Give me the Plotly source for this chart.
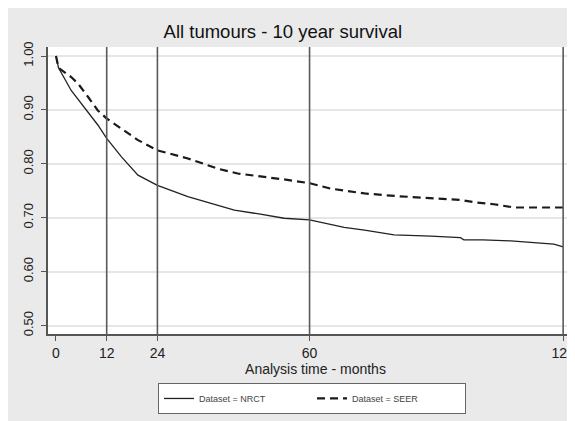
import plotly.graph_objects as go

# Data (months, survival proportion)
nrct_months = [0, 0.2, 0.6, 3.6, 7.6, 9.9, 12, 15.5, 19.4, 24, 31.2, 36.7, 42.2, 48, 54, 60,
               68.2, 73, 80, 88.7, 95.7, 96.5, 101, 107.6, 111.5, 115.4, 117.8, 120]
nrct_surv = [1.00, 0.99, 0.978, 0.936, 0.896, 0.872, 0.847, 0.813, 0.779, 0.760, 0.739, 0.727,
             0.714, 0.707, 0.699, 0.696, 0.682, 0.677, 0.668, 0.666, 0.663, 0.659, 0.659, 0.657,
             0.655, 0.653, 0.651, 0.646]

seer_months = [0, 0.2, 0.6, 3.6, 5.2, 7.6, 9.9, 12, 17, 19.4, 24, 31.2, 38.3, 43, 54, 60,
               65, 73, 80.8, 88.7, 95.7, 99.7, 103.6, 108.4, 120]
seer_surv = [1.00, 0.99, 0.978, 0.961, 0.949, 0.924, 0.899, 0.884, 0.856, 0.844, 0.825, 0.810,
             0.791, 0.782, 0.771, 0.764, 0.754, 0.745, 0.740, 0.736, 0.733, 0.728, 0.725, 0.719,
             0.719]

reference_months = [12, 24, 60, 120]
x_ticks = [0, 12, 24, 60, 120]
y_ticks = [0.5, 0.6, 0.7, 0.8, 0.9, 1.0]

FONT = "Liberation Sans, Arial, sans-serif"
PANEL = "#eaeaea"

fig = go.Figure()
fig.add_trace(go.Scatter(x=nrct_months, y=nrct_surv, mode="lines", name="Dataset = NRCT",
                         line=dict(color="#222222", width=1.3)))
fig.add_trace(go.Scatter(x=seer_months, y=seer_surv, mode="lines", name="Dataset = SEER",
                         line=dict(color="#1a1a1a", width=2.2, dash="8px,5px")))

fig.update_layout(
    width=575, height=421,
    margin=dict(l=40, r=0, t=39, b=95),
    paper_bgcolor=PANEL,
    plot_bgcolor="white",
    font=dict(family=FONT, color="#222222"),
    title=dict(text="All tumours - 10 year survival", x=0.478, xref="container",
               y=1 - 24 / 421, yref="container", xanchor="center", yanchor="middle",
               font=dict(size=18.5, color="#111111")),
    showlegend=True,
    legend=dict(orientation="h", x=0.4935, xanchor="center", y=-0.1706, yanchor="top",
                bgcolor="white", bordercolor="#666666", borderwidth=1,
                font=dict(size=9, color="#444444"),
                entrywidth=108, entrywidthmode="pixels"),
)

for m in reference_months:
    fig.add_vline(x=m, line=dict(color="#5a5a5a", width=1.6), layer="above")

fig.update_xaxes(range=[-1.89, 124.7], tickvals=x_ticks, ticktext=[str(v) for v in x_ticks],
                 showgrid=False, zeroline=False, showline=True, linecolor="#555555", linewidth=1.5,
                 ticks="outside", ticklen=5, tickcolor="#555555", tickwidth=1.3,
                 ticklabeloverflow="allow",
                 tickfont=dict(size=14, color="#222222"),
                 title=dict(text="Analysis time - months", font=dict(size=14, color="#222222"),
                            standoff=4))
fig.update_yaxes(range=[0.4843, 1.0167], tickvals=y_ticks, tickformat=".2f",
                 showgrid=True, gridcolor="#e6e6e6", gridwidth=1.5, zeroline=False,
                 showline=True, linecolor="#555555", linewidth=1.5,
                 ticks="outside", ticklen=5, tickcolor="#555555", tickwidth=1.3,
                 ticklabelstandoff=3,
                 tickangle=-90, tickfont=dict(size=13, color="#222222"))

fig.write_html("out.html")
